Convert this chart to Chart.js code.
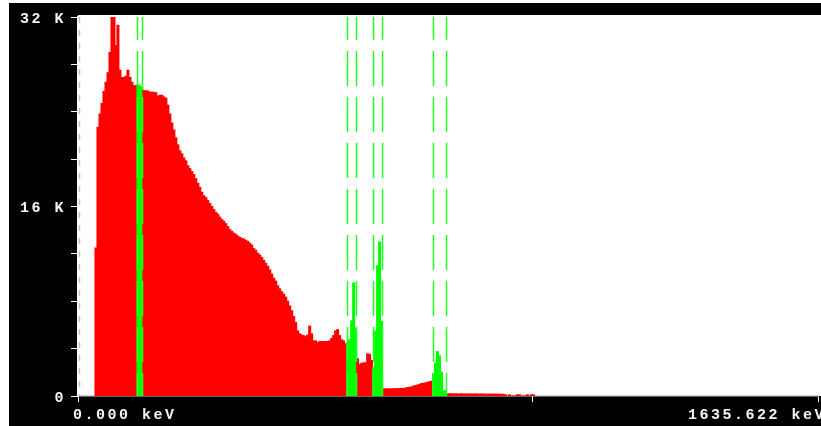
<!DOCTYPE html>
<html>
<head>
<meta charset="utf-8">
<script src="https://cdn.jsdelivr.net/npm/chart.js@4.4.1/dist/chart.umd.min.js"></script>
<style>
  html, body { margin: 0; padding: 0; background: #fff; overflow: hidden; }
  #frame { position: absolute; left: 9px; top: 3px; width: 812px; height: 423px; background: #000; }
  canvas { display: block; }
</style>
</head>
<body>
<div id="frame"><canvas id="spectrum" width="812" height="423"></canvas></div>
<script>
// Spectrum: counts per 2-pixel bin
const firstBinKeV = 37.524;   // lower edge of first non-empty bin
const binKeV = 4.4146;        // bin width
const counts = [
  12500, 22700, 23800, 24700, 25700, 26500, 27300, 29000, 33000, 33000,
  29600, 31300, 27500, 26900, 26900, 27000, 27500, 26900, 26500, 26200,
  26200, 26300, 26200, 26100, 25800, 25750, 25750, 25650, 25650, 25650,
  25600, 25300, 25400, 25400, 25250, 25150, 24550, 23800, 23050, 22450,
  21800, 21200, 20700, 20450, 20100, 19850, 19450, 19200, 18950, 18700,
  18350, 17950, 17600, 17200, 16900, 16750, 16500, 16250, 16000, 15750,
  15500, 15350, 15100, 14900, 14750, 14550, 14300, 14050, 13900, 13750,
  13650, 13500, 13400, 13300, 13250, 13150, 13050, 12900, 12750, 12450,
  12300, 12050, 11900, 11700, 11450, 11200, 10950, 10650, 10300, 9950,
  9700, 9300, 9050, 8800, 8600, 8350, 8000, 7600, 7200, 6700,
  6200, 5500, 5250, 5150, 5100, 5000, 5150, 5900, 5250, 4650,
  4650, 4500, 4600, 4600, 4600, 4600, 4600, 4650, 4850, 5100,
  5500, 5600, 5100, 4750, 4650, 4400, 4500, 4750, 6350, 9550,
  5650, 3150, 2650, 2750, 2800, 2800, 3550, 3500, 3000, 2400,
  5500, 11000, 13000, 6300, 600, 600, 600, 600, 600, 600,
  620, 620, 620, 640, 640, 660, 720, 740, 760, 840,
  880, 920, 980, 1050, 1080, 1100, 1150, 1200, 1250, 1900,
  2750, 3750, 3400, 2000, 450, 450,
  190, 180, 180, 170, 180, 170, 170, 180, 170, 170,
  160, 170, 170, 160, 170, 160, 160, 170, 160, 160,
  150, 160, 160, 150, 160, 150, 150, 150, 140,
  100, 0, 100, 0, 0, 0, 100, 100, 0, 0, 0, 100, 0, 100, 100
];

// Regions of interest [low, high] in keV (green)
const roiKeV = [
  [129.6, 140.6],
  [594.4, 615.2],
  [652.7, 672.6],
  [785.1, 812.3]
];

const xMaxKeV = 1635.622;
const xTickKeV = [0, 1004, 1635.622];
const xEndLabels = ['0.000 keV', '1635.622 keV'];
const yMax = 32000;
const yStep = 4000;

const RED = '#ff0000';
const GREEN = '#00ff00';
const LABEL_FONT = 'bold 15px "Liberation Mono", "DejaVu Sans Mono", monospace';

function inRoi(kev) {
  return roiKeV.some(([lo, hi]) => kev >= lo && kev <= hi + binKeV / 2);
}

const points = counts.map((c, i) => ({ x: firstBinKeV + (i + 0.5) * binKeV, y: c }));

const spectrumFrame = {
  id: 'spectrumFrame',
  beforeDraw(chart) {
    const { ctx, chartArea: a, width } = chart;
    ctx.save();
    ctx.fillStyle = '#fff';
    ctx.fillRect(a.left, a.top - 2, width - a.left, a.bottom - a.top + 2);
    ctx.restore();
    ctx.letterSpacing = '2.5px';
  },
  afterDatasetsDraw(chart) {
    const { ctx, chartArea: a, scales: { x } } = chart;
    ctx.save();
    // dashed marker at channel zero
    ctx.strokeStyle = '#c0c0c0';
    ctx.lineWidth = 1.5;
    ctx.setLineDash([6, 7]);
    const x0 = x.getPixelForValue(0) + 1.5;
    ctx.beginPath();
    ctx.moveTo(x0, a.top);
    ctx.lineTo(x0, a.bottom);
    ctx.stroke();
    // ROI boundaries
    ctx.strokeStyle = '#22ff22';
    ctx.setLineDash([35, 11]);
    ctx.lineDashOffset = 12;
    roiKeV.forEach(pair => {
      pair.forEach(e => {
        const px = Math.round(x.getPixelForValue(e)) + 0.5;
        ctx.beginPath();
        ctx.moveTo(px, a.top);
        ctx.lineTo(px, a.bottom);
        ctx.stroke();
      });
    });
    ctx.restore();
  },
  afterDraw(chart) {
    const { ctx, chartArea: a, scales: { x } } = chart;
    ctx.save();
    ctx.font = LABEL_FONT;
    ctx.fillStyle = '#f4f4f4';
    ctx.textBaseline = 'alphabetic';
    ctx.textAlign = 'left';
    ctx.fillText(xEndLabels[0], x.left - 5, a.bottom + 23);
    ctx.fillText(xEndLabels[1], x.right - 130, a.bottom + 23);
    ctx.restore();
  }
};

new Chart(document.getElementById('spectrum'), {
  type: 'bar',
  data: {
    datasets: [{
      data: points,
      backgroundColor: ctx => inRoi(ctx.raw ? ctx.raw.x : 0) ? GREEN : RED,
      borderWidth: 0,
      barPercentage: 1,
      categoryPercentage: 1,
      inflateAmount: 0.5,
      clip: 0
    }]
  },
  options: {
    responsive: false,
    animation: false,
    events: [],
    layout: { padding: { top: 11.5, right: 2, bottom: 0, left: 0 } },
    plugins: { legend: { display: false }, tooltip: { enabled: false } },
    scales: {
      x: {
        type: 'linear',
        offset: false,
        min: 0,
        max: xMaxKeV,
        afterBuildTicks: scale => { scale.ticks = xTickKeV.map(v => ({ value: v })); },
        afterFit: scale => { scale.height = 30; },
        grid: { offset: false, drawOnChartArea: false, drawTicks: true, tickLength: 6, color: '#fff' },
        border: { display: true, color: '#d0d0d0', width: 1.5 },
        ticks: { autoSkip: false, maxRotation: 0, callback: () => '' }
      },
      y: {
        min: 0,
        max: yMax,
        afterFit: scale => { scale.width = 69; },
        grid: { drawOnChartArea: false, drawTicks: true, tickLength: 7, color: '#fff' },
        border: { display: true, color: '#fff', width: 1.5 },
        ticks: {
          stepSize: yStep,
          autoSkip: false,
          padding: 5,
          labelOffset: 2,
          color: '#f4f4f4',
          font: { family: '"Liberation Mono", "DejaVu Sans Mono", monospace', size: 15, weight: 'bold' },
          callback: v => v % 16000 === 0 ? (v === 0 ? '0' : (v / 1000) + ' K') : ''
        }
      }
    }
  },
  plugins: [spectrumFrame]
});
</script>
</body>
</html>
